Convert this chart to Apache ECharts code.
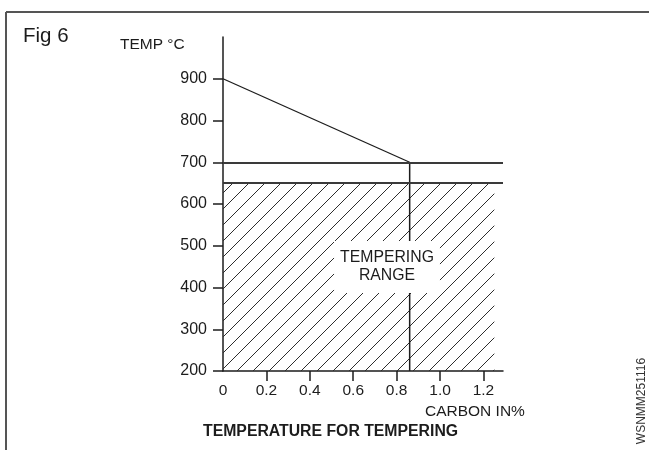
<!DOCTYPE html>
<html>
<head>
<meta charset="utf-8">
<script src="https://cdn.jsdelivr.net/npm/echarts@6/dist/echarts.min.js"></script>
<style>
  html, body { margin: 0; padding: 0; background: #fff; }
  #chart { width: 649px; height: 450px; }
</style>
</head>
<body>
<div id="chart"></div>
<script>
// Tempering temperature vs carbon content
const tempTicks = [200, 300, 400, 500, 600, 700, 800, 900];
const carbonTicks = [0.2, 0.4, 0.6, 0.8, 1.0, 1.2];
const carbonLabels = [0, 0.2, 0.4, 0.6, 0.8, 1.0, 1.2];

// Upper critical line falling from 900 °C at 0 % C to 700 °C at the eutectoid point
const slopeCarbon = [0, 0.86];
const slopeTemp = [900, 700];
// Drop from the eutectoid point down to the base of the axis
const dropCarbon = [0.86, 0.86];
const dropTemp = [700, 200];
// Horizontal limits
const upperLimitTemp = 700;
const rangeTopTemp = 650;
// Hatched tempering range
const rangeCarbon = [0, 1.25];
const rangeTemp = [200, 650];

const FONT = '"Liberation Sans", Arial, Helvetica, sans-serif';
const INK = '#1c1c1c';

function hatchPattern() {
  const s = 16;
  const c = document.createElement('canvas');
  c.width = s; c.height = s;
  const g = c.getContext('2d');
  g.strokeStyle = '#2e2e2e';
  g.lineWidth = 1;
  g.beginPath();
  g.moveTo(0, s); g.lineTo(s, 0);
  g.moveTo(-2, 2); g.lineTo(2, -2);
  g.moveTo(s - 2, s + 2); g.lineTo(s + 2, s - 2);
  g.stroke();
  return c;
}

const zip = (xs, ys) => xs.map((x, i) => [x, ys[i]]);

const chart = echarts.init(document.getElementById('chart'), null, { renderer: 'canvas' });

chart.setOption({
  animation: false,
  backgroundColor: '#fff',
  grid: { left: 223, top: 37, right: 146, bottom: 79, containLabel: false },
  xAxis: {
    type: 'value',
    min: 0, max: 1.29, interval: 0.2,
    axisLine: { show: true, onZero: false, lineStyle: { color: INK, width: 1.5 } },
    axisTick: { show: true, inside: false, length: 10, customValues: carbonTicks, lineStyle: { color: INK, width: 1.5 } },
    axisLabel: {
      customValues: carbonLabels,
      margin: 12,
      fontFamily: FONT, fontSize: 15.5, color: INK,
      formatter: v => (v === 0 ? '0' : v.toFixed(1))
    },
    splitLine: { show: false }
  },
  yAxis: {
    type: 'value',
    min: 200, max: 1000, interval: 100,
    axisLine: { show: true, onZero: false, lineStyle: { color: INK, width: 1.5 } },
    axisTick: { show: true, inside: false, length: 10, customValues: tempTicks, lineStyle: { color: INK, width: 1.5 } },
    axisLabel: { customValues: tempTicks, margin: 16, fontFamily: FONT, fontSize: 16, color: INK },
    splitLine: { show: false }
  },
  series: [
    {
      type: 'line',
      data: zip(slopeCarbon, slopeTemp),
      symbol: 'none',
      lineStyle: { color: INK, width: 1.3 },
      z: 3,
      markLine: {
        silent: true,
        symbol: 'none',
        label: { show: false },
        lineStyle: { color: '#3a3a3a', width: 1.8, type: 'solid' },
        data: [{ yAxis: upperLimitTemp }, { yAxis: rangeTopTemp }]
      },
      markArea: {
        silent: true,
        itemStyle: { color: { image: hatchPattern(), repeat: 'repeat' } },
        data: [[
          { coord: [rangeCarbon[0], rangeTemp[0]] },
          { coord: [rangeCarbon[1], rangeTemp[1]] }
        ]]
      }
    },
    {
      type: 'line',
      data: zip(dropCarbon, dropTemp),
      symbol: 'none',
      lineStyle: { color: INK, width: 1.5 },
      z: 3
    }
  ],
  graphic: [
    // outer frame
    { type: 'line', shape: { x1: 6, y1: 12, x2: 649, y2: 12 }, style: { stroke: '#555', lineWidth: 2 }, z: 10 },
    { type: 'line', shape: { x1: 6, y1: 12, x2: 6, y2: 450 }, style: { stroke: '#555', lineWidth: 2 }, z: 10 },
    { type: 'text', x: 23, y: 36, style: { text: 'Fig 6', font: '20.5px ' + FONT, fill: INK, verticalAlign: 'middle' }, z: 10 },
    { type: 'text', x: 120, y: 45, style: { text: 'TEMP °C', font: '15.5px ' + FONT, fill: INK, verticalAlign: 'middle' }, z: 10 },
    { type: 'text', x: 425, y: 412, style: { text: 'CARBON IN%', font: '15.5px ' + FONT, fill: INK, verticalAlign: 'middle' }, z: 10 },
    { type: 'text', x: 203, y: 432, style: { text: 'TEMPERATURE FOR TEMPERING', font: 'bold 15.8px ' + FONT, fill: INK, verticalAlign: 'middle' }, z: 10 },
    {
      type: 'text', x: 387, y: 267,
      style: {
        text: 'TEMPERING\nRANGE', font: '15.8px ' + FONT, fill: INK,
        align: 'center', verticalAlign: 'middle', lineHeight: 18,
        backgroundColor: '#fff', padding: [8, 6, 8, 6]
      },
      z: 20
    },
    {
      type: 'text', x: 642, y: 401, rotation: Math.PI / 2,
      style: { text: 'WSNMM251116', font: '12px ' + FONT, fill: '#333', align: 'center', verticalAlign: 'middle' },
      z: 10
    }
  ]
});
</script>
</body>
</html>
